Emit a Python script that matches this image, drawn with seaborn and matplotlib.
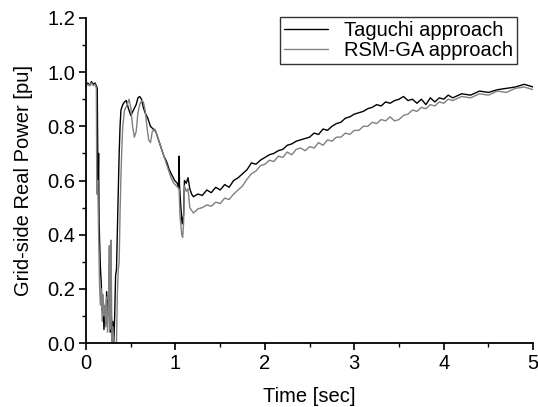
import numpy as np
import pandas as pd
import matplotlib
matplotlib.use('Agg')
import matplotlib.pyplot as plt
from matplotlib.ticker import MultipleLocator
import seaborn as sns

# Taguchi approach (black)
t_taguchi = [0.00, 0.02, 0.04, 0.06, 0.08, 0.10, 0.12, 0.125, 0.13, 0.135, 0.14, 0.145,
             0.16, 0.17, 0.18, 0.19, 0.20, 0.21, 0.22, 0.23, 0.24, 0.25, 0.26, 0.27,
             0.28, 0.29, 0.30, 0.31, 0.32, 0.33, 0.34, 0.35, 0.36, 0.37, 0.38, 0.39,
             0.41, 0.43, 0.45, 0.47, 0.50, 0.53, 0.56, 0.58, 0.60, 0.62, 0.64, 0.66,
             0.69, 0.72, 0.75, 0.78, 0.81, 0.84, 0.87, 0.90, 0.93, 0.96, 0.99, 1.02,
             1.035, 1.04, 1.045, 1.06, 1.075, 1.09, 1.10, 1.12, 1.14, 1.16, 1.18, 1.20,
             1.25, 1.30, 1.35, 1.40, 1.45, 1.50, 1.55, 1.60, 1.65, 1.70, 1.75, 1.80,
             1.85, 1.90, 1.95, 2.00, 2.05, 2.10, 2.15, 2.20, 2.25, 2.30, 2.35, 2.40,
             2.45, 2.50, 2.55, 2.60, 2.65, 2.70, 2.75, 2.80, 2.85, 2.90, 2.95, 3.00,
             3.05, 3.10, 3.15, 3.20, 3.25, 3.30, 3.35, 3.40, 3.45, 3.50, 3.55, 3.60,
             3.65, 3.70, 3.75, 3.80, 3.85, 3.90, 3.95, 4.00, 4.05, 4.10, 4.20, 4.30,
             4.40, 4.50, 4.60, 4.70, 4.80, 4.90, 5.00]
p_taguchi = [0.95, 0.96, 0.95, 0.965, 0.955, 0.96, 0.945, 0.94, 0.72, 0.60, 0.70, 0.45,
             0.28, 0.22, 0.12, 0.15, 0.05, 0.12, 0.07, 0.19, 0.10, 0.16, 0.12, 0.04,
             0.13, 0.02, 0.08, 0.00, 0.10, 0.25, 0.27, 0.42, 0.56, 0.70, 0.80, 0.86,
             0.88, 0.89, 0.895, 0.87, 0.84, 0.86, 0.88, 0.905, 0.91, 0.90, 0.87, 0.85,
             0.83, 0.80, 0.79, 0.78, 0.75, 0.72, 0.69, 0.67, 0.64, 0.62, 0.60, 0.59,
             0.57, 0.69, 0.58, 0.50, 0.44, 0.47, 0.60, 0.59, 0.61, 0.57, 0.55, 0.54,
             0.55, 0.545, 0.565, 0.555, 0.575, 0.565, 0.585, 0.575, 0.60, 0.61, 0.625, 0.64,
             0.665, 0.66, 0.675, 0.685, 0.695, 0.70, 0.71, 0.715, 0.73, 0.735, 0.745, 0.75,
             0.755, 0.76, 0.775, 0.77, 0.79, 0.785, 0.80, 0.81, 0.815, 0.83, 0.835, 0.845,
             0.85, 0.855, 0.865, 0.87, 0.88, 0.875, 0.89, 0.885, 0.895, 0.90, 0.91, 0.895,
             0.90, 0.885, 0.90, 0.88, 0.905, 0.89, 0.905, 0.90, 0.915, 0.905, 0.92, 0.915,
             0.93, 0.925, 0.935, 0.94, 0.945, 0.955, 0.945]

# RSM-GA approach (gray)
t_rsmga = [0.00, 0.02, 0.04, 0.06, 0.08, 0.10, 0.115, 0.12, 0.13, 0.14, 0.15, 0.16,
           0.17, 0.18, 0.19, 0.20, 0.21, 0.22, 0.23, 0.24, 0.25, 0.26, 0.265, 0.27,
           0.28, 0.285, 0.29, 0.30, 0.31, 0.32, 0.34, 0.35, 0.36, 0.37, 0.38, 0.39,
           0.40, 0.41, 0.43, 0.46, 0.48, 0.50, 0.52, 0.54, 0.56, 0.58, 0.60, 0.62,
           0.64, 0.66, 0.68, 0.70, 0.72, 0.74, 0.77, 0.80, 0.83, 0.86, 0.89, 0.92,
           0.95, 0.98, 1.01, 1.04, 1.05, 1.07, 1.08, 1.09, 1.10, 1.12, 1.14, 1.16,
           1.18, 1.20, 1.25, 1.30, 1.35, 1.40, 1.45, 1.50, 1.55, 1.60, 1.65, 1.70,
           1.75, 1.80, 1.85, 1.90, 1.95, 2.00, 2.05, 2.10, 2.15, 2.20, 2.25, 2.30,
           2.35, 2.40, 2.45, 2.50, 2.55, 2.60, 2.65, 2.70, 2.75, 2.80, 2.85, 2.90,
           2.95, 3.00, 3.05, 3.10, 3.15, 3.20, 3.25, 3.30, 3.35, 3.40, 3.45, 3.50,
           3.55, 3.60, 3.65, 3.70, 3.75, 3.80, 3.85, 3.90, 3.95, 4.00, 4.05, 4.10,
           4.20, 4.30, 4.40, 4.50, 4.60, 4.70, 4.80, 4.90, 5.00]
p_rsmga = [0.95, 0.955, 0.95, 0.96, 0.95, 0.955, 0.94, 0.55, 0.60, 0.40, 0.22, 0.14,
           0.20, 0.08, 0.18, 0.10, 0.14, 0.06, 0.17, 0.04, 0.12, 0.36, 0.05, 0.20,
           0.38, 0.15, 0.00, 0.06, 0.00, 0.00, 0.00, 0.18, 0.27, 0.30, 0.48, 0.62,
           0.72, 0.80, 0.86, 0.88, 0.90, 0.87, 0.80, 0.76, 0.78, 0.85, 0.88, 0.895,
           0.89, 0.86, 0.80, 0.75, 0.74, 0.78, 0.79, 0.76, 0.73, 0.70, 0.67, 0.64,
           0.61, 0.59, 0.58, 0.57, 0.47, 0.40, 0.39, 0.44, 0.58, 0.56, 0.57, 0.50,
           0.49, 0.48, 0.495, 0.50, 0.51, 0.505, 0.52, 0.515, 0.535, 0.53, 0.55, 0.565,
           0.58, 0.605, 0.625, 0.635, 0.655, 0.66, 0.675, 0.67, 0.69, 0.685, 0.705, 0.695,
           0.715, 0.72, 0.71, 0.725, 0.72, 0.74, 0.73, 0.75, 0.745, 0.76, 0.76, 0.775,
           0.77, 0.785, 0.785, 0.80, 0.80, 0.815, 0.81, 0.825, 0.82, 0.835, 0.82, 0.825,
           0.84, 0.845, 0.86, 0.855, 0.87, 0.865, 0.88, 0.875, 0.89, 0.885, 0.90, 0.895,
           0.91, 0.905, 0.92, 0.915, 0.93, 0.925, 0.94, 0.945, 0.935]

sns.set_style('ticks')
plt.rcParams['font.family'] = ['Liberation Sans', 'DejaVu Sans']
plt.rcParams['text.color'] = 'black'
plt.rcParams['axes.labelcolor'] = 'black'
plt.rcParams['axes.edgecolor'] = 'black'
plt.rcParams['xtick.color'] = 'black'
plt.rcParams['ytick.color'] = 'black'

fig = plt.figure(figsize=(5.38, 4.07), dpi=100)
ax = fig.add_axes([0.160, 0.157, 0.831, 0.799])

sns.lineplot(x=t_taguchi, y=p_taguchi, color='black', lw=1.0,
             errorbar=None, sort=False, ax=ax, label='Taguchi approach')
sns.lineplot(x=t_rsmga, y=p_rsmga, color='#808080', lw=1.0,
             errorbar=None, sort=False, ax=ax, label='RSM-GA approach')

ax.set_xlim(0, 5)
ax.set_ylim(0, 1.2)
ax.xaxis.set_major_locator(MultipleLocator(1))
ax.xaxis.set_minor_locator(MultipleLocator(0.5))
ax.yaxis.set_major_locator(MultipleLocator(0.2))
ax.yaxis.set_minor_locator(MultipleLocator(0.1))
ax.set_yticklabels([f'{v:.1f}' for v in ax.get_yticks()])
ax.tick_params(which='major', direction='out', length=5, width=1.2, labelsize=14.5, pad=3)
ax.tick_params(which='minor', direction='out', length=3, width=1.0)
for s in ['left', 'bottom']:
    ax.spines[s].set_linewidth(1.3)
sns.despine(ax=ax)

ax.set_xlabel('Time [sec]', fontsize=14.5, labelpad=10)
ax.set_ylabel('Grid-side Real Power [pu]', fontsize=14.5, labelpad=10)

leg = ax.legend(loc='upper right', bbox_to_anchor=(0.961, 0.958), bbox_transform=fig.transFigure,
                fontsize=14.5, frameon=True, fancybox=False, edgecolor='black',
                handlelength=2.2, borderpad=0.2, labelspacing=0.05, handletextpad=0.8,
                borderaxespad=0)
leg.get_frame().set_linewidth(1.0)

fig.savefig('out.png', dpi=100)
